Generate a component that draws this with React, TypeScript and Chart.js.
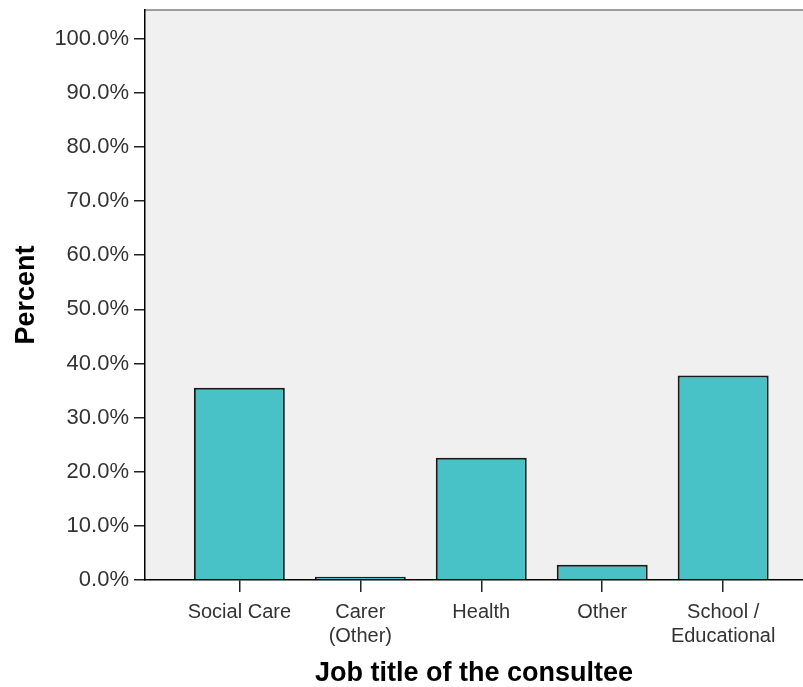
import React, { useEffect, useRef } from "react";
import { Chart, registerables } from "chart.js";

Chart.register(...registerables);

const categories: string[][] = [
  ["Social Care"],
  ["Carer", "(Other)"],
  ["Health"],
  ["Other"],
  ["School /", "Educational"],
];
const percentValues: number[] = [35.5, 0.6, 22.6, 2.8, 37.8];
const yTickValues: number[] = [0, 10, 20, 30, 40, 50, 60, 70, 80, 90, 100];

const W = 803;
const H = 687;

const plotBg = {
  id: "plotBg",
  beforeDraw(chart: any) {
    const { ctx, chartArea } = chart;
    if (!chartArea) return;
    ctx.save();
    ctx.fillStyle = "#f0f0f0";
    ctx.fillRect(chartArea.left, chartArea.top, chartArea.right - chartArea.left, chartArea.bottom - chartArea.top);
    ctx.strokeStyle = "#808080";
    ctx.lineWidth = 1.5;
    ctx.beginPath();
    ctx.moveTo(chartArea.left, chartArea.top);
    ctx.lineTo(chartArea.right, chartArea.top);
    ctx.stroke();
    ctx.restore();
  },
};

export default function App() {
  const ref = useRef<HTMLCanvasElement | null>(null);

  useEffect(() => {
    if (!ref.current) return;
    const chart = new Chart(ref.current, {
      type: "bar",
      data: {
        datasets: [
          {
            data: percentValues.map((v, i) => ({ x: i, y: v })),
            backgroundColor: "#48c2c6",
            borderColor: "#1a1a1a",
            borderWidth: 2,
            barPercentage: 0.752,
            categoryPercentage: 1,
          },
        ],
      },
      options: {
        responsive: false,
        animation: false,
        layout: { padding: { top: 10, left: 0, right: 0, bottom: 0 } },
        plugins: {
          legend: { display: false },
          tooltip: { enabled: false },
        },
        scales: {
          x: {
            type: "linear",
            offset: false,
            min: -0.78,
            max: 4.66,
            afterBuildTicks: (scale: any) => {
              scale.ticks = categories.map((_, i) => ({ value: i }));
            },
            afterFit: (scale: any) => {
              scale.height = 107;
              scale.paddingLeft = 0;
              scale.paddingRight = 0;
            },
            border: { display: true, color: "#000", width: 1.5 },
            grid: {
              display: true,
              offset: false,
              drawOnChartArea: false,
              drawTicks: true,
              tickLength: 12,
              color: "#222",
              lineWidth: 1.5,
            },
            ticks: {
              autoSkip: false,
              maxRotation: 0,
              minRotation: 0,
              padding: 8,
              color: "#333",
              font: { family: "'Liberation Sans', Arial, sans-serif", size: 20 },
              callback: (v: any) => {
                const c = categories[Math.round(Number(v))];
                return c ? c : "";
              },
            },
            title: {
              display: true,
              text: "Job title of the consultee",
              color: "#000",
              padding: { top: 0, bottom: 0 },
              font: { family: "'Liberation Sans', Arial, sans-serif", size: 27, weight: "bold", lineHeight: 1 },
            },
          },
          y: {
            type: "linear",
            min: 0,
            max: 105.3,
            afterBuildTicks: (scale: any) => {
              scale.ticks = yTickValues.map((v) => ({ value: v }));
            },
            afterFit: (scale: any) => {
              scale.width = 145;
              scale.paddingTop = 0;
              scale.paddingBottom = 0;
            },
            border: { display: true, color: "#000", width: 1.5 },
            grid: {
              display: true,
              drawOnChartArea: false,
              drawTicks: true,
              tickLength: 11,
              color: "#222",
              lineWidth: 1.5,
            },
            ticks: {
              padding: 5,
              color: "#333",
              font: { family: "'Liberation Sans', Arial, sans-serif", size: 22 },
              callback: (v: any) => Number(v).toFixed(1) + "%",
            },
            title: {
              display: true,
              text: "Percent",
              color: "#000",
              padding: { top: 13, bottom: 0 },
              font: { family: "'Liberation Sans', Arial, sans-serif", size: 27, weight: "bold", lineHeight: 1 },
            },
          },
        },
      },
      plugins: [plotBg],
    } as any);
    return () => chart.destroy();
  }, []);

  return (
    <div style={{ position: "absolute", left: 0, top: 0, width: W, height: H }}>
      <canvas ref={ref} width={W} height={H} style={{ display: "block", width: W, height: H }} />
    </div>
  );
}
